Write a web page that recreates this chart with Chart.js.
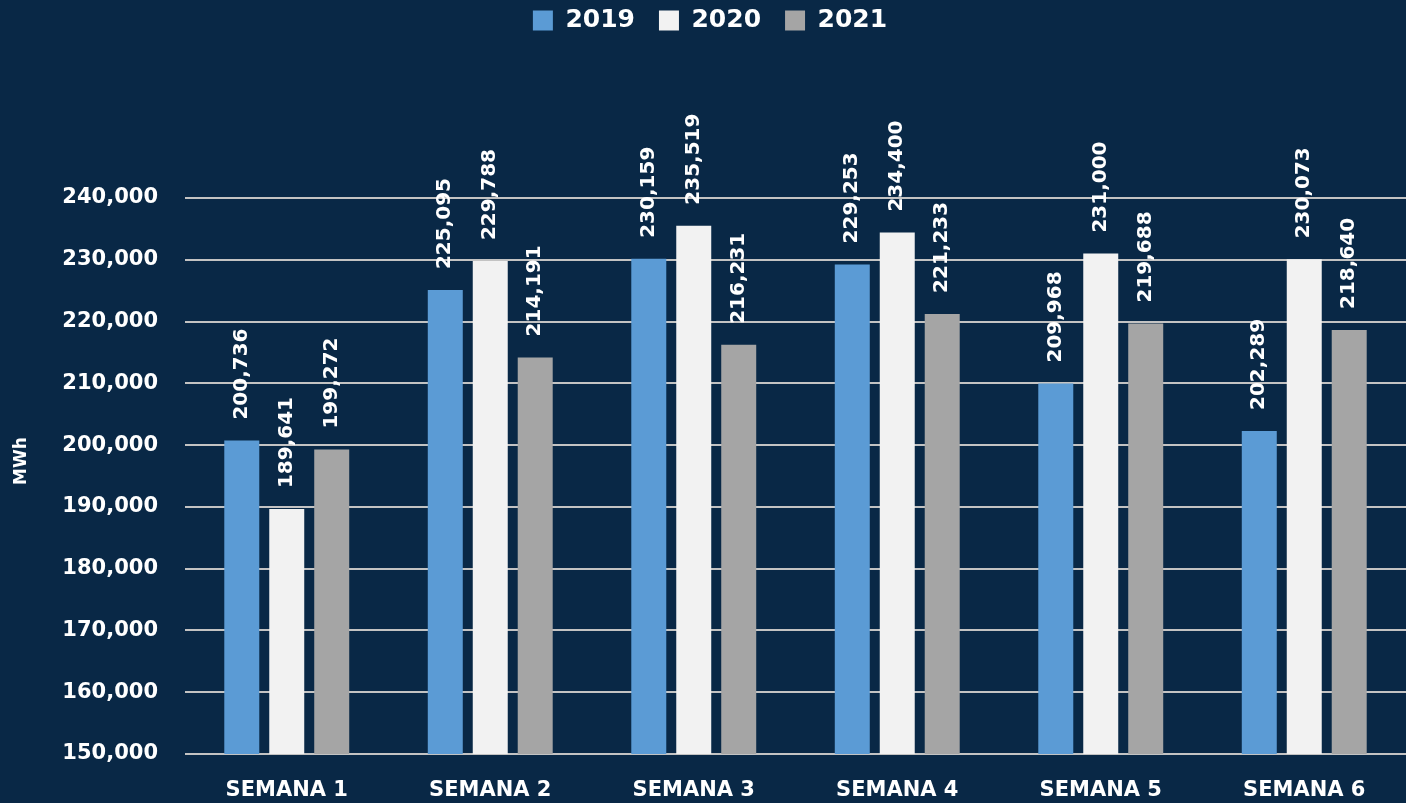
<!DOCTYPE html>
<html>
<head>
<meta charset="utf-8">
<script src="https://cdn.jsdelivr.net/npm/chart.js@4"></script>
<style>
  html, body { margin: 0; padding: 0; background: #092846; }
  #wrap { width: 1406px; height: 803px; }
</style>
</head>
<body>
<div id="wrap"><canvas id="chart"></canvas></div>
<script>
const categories = ['SEMANA 1', 'SEMANA 2', 'SEMANA 3', 'SEMANA 4', 'SEMANA 5', 'SEMANA 6'];
const seriesNames = ['2019', '2020', '2021'];
const values2019 = [200736, 225095, 230159, 229253, 209968, 202289];
const values2020 = [189641, 229788, 235519, 234400, 231000, 230073];
const values2021 = [199272, 214191, 216231, 221233, 219688, 218640];
const yMin = 150000;
const yMax = 240000;
const yStep = 10000;
const yTitle = 'MWh';

const FONT = "'DejaVu Sans', sans-serif";
const colors = ['#5b9bd5', '#f2f2f2', '#a5a5a5'];

function fmt(v) {
  return v.toLocaleString('en-US');
}

// rotated value labels above each bar
const valueLabels = {
  id: 'valueLabels',
  afterDatasetsDraw(chart) {
    const ctx = chart.ctx;
    ctx.save();
    ctx.fillStyle = '#ffffff';
    ctx.font = 'bold 20px ' + FONT;
    ctx.textAlign = 'left';
    ctx.textBaseline = 'middle';
    chart.data.datasets.forEach((ds, i) => {
      const meta = chart.getDatasetMeta(i);
      meta.data.forEach((bar, j) => {
        ctx.save();
        ctx.translate(bar.x, bar.y - 21);
        ctx.rotate(-Math.PI / 2);
        ctx.fillText(fmt(ds.data[j]), 0, 0);
        ctx.restore();
      });
    });
    ctx.restore();
  }
};

// y axis title, drawn by hand so it can sit where the original has it
const axisTitle = {
  id: 'axisTitle',
  afterDraw(chart) {
    const ctx = chart.ctx;
    ctx.save();
    ctx.fillStyle = '#ffffff';
    ctx.font = 'bold 17px ' + FONT;
    ctx.textAlign = 'center';
    ctx.textBaseline = 'middle';
    ctx.translate(22, 461);
    ctx.rotate(-Math.PI / 2);
    ctx.fillText(yTitle, 0, 0);
    ctx.restore();
  }
};

// keep the legend band tall so the plot starts at the 240,000 line
const legendBand = {
  id: 'legendBand',
  afterInit(chart) {
    const orig = chart.legend.fit;
    chart.legend.fit = function () {
      orig.call(this);
      this.height = 198;
    };
  },
  afterLayout(chart) {
    chart.legend.top -= 16;
    chart.legend.left += 7;
    chart.legend.right += 7;
  }
};

const datasets = [values2019, values2020, values2021].map((vals, i) => ({
  label: seriesNames[i],
  data: vals,
  backgroundColor: colors[i],
  borderWidth: 0,
  categoryPercentage: 0.663,
  barPercentage: 0.778
}));

new Chart(document.getElementById('chart'), {
  type: 'bar',
  data: { labels: categories, datasets: datasets },
  plugins: [valueLabels, axisTitle, legendBand],
  options: {
    responsive: true,
    maintainAspectRatio: false,
    animation: false,
    layout: { padding: 0 },
    plugins: {
      tooltip: { enabled: false },
      legend: {
        position: 'top',
        labels: {
          color: '#ffffff',
          font: { family: FONT, size: 25, weight: 'bold' },
          boxWidth: 20,
          boxHeight: 20,
          padding: 24
        }
      }
    },
    scales: {
      x: {
        grid: { display: false },
        border: { display: false },
        ticks: {
          color: '#ffffff',
          font: { family: FONT, size: 21, weight: 'bold' },
          padding: 16,
          maxRotation: 0
        },
        afterFit(scale) { scale.height = 49; }
      },
      y: {
        min: yMin,
        max: yMax,
        grid: { color: '#c3c3c3', lineWidth: 2, drawTicks: false },
        border: { display: false },
        ticks: {
          stepSize: yStep,
          color: '#ffffff',
          font: { family: FONT, size: 21, weight: 'bold' },
          padding: 27,
          callback: v => fmt(v)
        },
        afterFit(scale) { scale.width = 185; }
      }
    }
  }
});
</script>
</body>
</html>
